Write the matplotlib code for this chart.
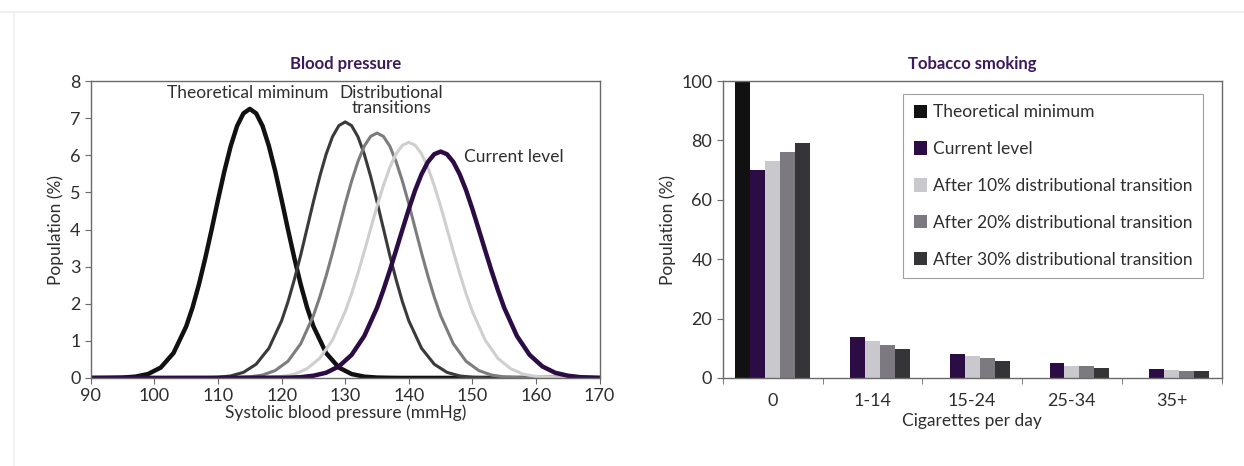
import matplotlib.pyplot as plt
import numpy as np

plt.rcParams['font.family'] = ['Lato', 'DejaVu Sans']

# blood pressure distributions (population %, by systolic mmHg)
bp_dx = [-24, -22, -20, -18, -16, -14, -12, -10, -9, -8, -7, -6, -5, -4, -3, -2, -1, 0,
         1, 2, 3, 4, 5, 6, 7, 8, 9, 10, 12, 14, 16, 18, 20, 22, 24]
bp_centres = [115, 130, 135, 140, 145]
bp_theoretical = [0, 0.003, 0.01, 0.034, 0.105, 0.28, 0.67, 1.39, 1.90, 2.52, 3.23, 4.00, 4.80, 5.57, 6.25, 6.79, 7.13, 7.25,
                  7.13, 6.79, 6.25, 5.57, 4.80, 4.00, 3.23, 2.52, 1.90, 1.39, 0.67, 0.28, 0.105, 0.034, 0.01, 0.003, 0]
bp_trans30 = [0, 0.005, 0.017, 0.054, 0.15, 0.37, 0.80, 1.54, 2.05, 2.65, 3.31, 4.03, 4.75, 5.43, 6.03, 6.50, 6.80, 6.90,
              6.80, 6.50, 6.03, 5.43, 4.75, 4.03, 3.31, 2.65, 2.05, 1.54, 0.80, 0.37, 0.15, 0.054, 0.017, 0.005, 0]
bp_trans20 = [0.002, 0.009, 0.028, 0.078, 0.20, 0.45, 0.92, 1.68, 2.18, 2.75, 3.37, 4.03, 4.69, 5.30, 5.83, 6.25, 6.51, 6.60,
              6.51, 6.25, 5.83, 5.30, 4.69, 4.03, 3.37, 2.75, 2.18, 1.68, 0.92, 0.45, 0.20, 0.078, 0.028, 0.009, 0.002]
bp_trans10 = [0.004, 0.014, 0.04, 0.10, 0.25, 0.53, 1.02, 1.79, 2.27, 2.82, 3.41, 4.02, 4.63, 5.18, 5.67, 6.04, 6.27, 6.35,
              6.27, 6.04, 5.67, 5.18, 4.63, 4.02, 3.41, 2.82, 2.27, 1.79, 1.02, 0.53, 0.25, 0.10, 0.04, 0.014, 0.004]
bp_current = [0.007, 0.02, 0.06, 0.14, 0.31, 0.62, 1.13, 1.89, 2.37, 2.89, 3.44, 4.00, 4.55, 5.06, 5.49, 5.82, 6.03, 6.10,
              6.03, 5.82, 5.49, 5.06, 4.55, 4.00, 3.44, 2.89, 2.37, 1.89, 1.13, 0.62, 0.31, 0.14, 0.06, 0.02, 0.007]

# tobacco smoking (population %, by cigarettes per day)
smoke_cats = ['0', '1-14', '15-24', '25-34', '35+']
smoke_series = ['Theoretical minimum', 'Current level',
                'After 10% distributional transition',
                'After 20% distributional transition',
                'After 30% distributional transition']
smoke_theoretical = [100, 0, 0, 0, 0]
smoke_current = [70, 13.7, 8.1, 5.1, 3.1]
smoke_10 = [73, 12.6, 7.3, 4.1, 2.8]
smoke_20 = [76, 11.2, 6.7, 4.0, 2.2]
smoke_30 = [79, 9.8, 5.8, 3.5, 2.2]

black = '#111111'
purple = '#2c0c45'
title_col = '#3b1a5e'
spine_col = '#6a6a6a'
text_col = '#2e2e2e'
fs = 12.5

fig = plt.figure(figsize=(12.44, 4.66), dpi=100)

# faint page frame
fig.add_artist(plt.Line2D([0, 1], [0.974, 0.974], color='#ececec', lw=1.2))
fig.add_artist(plt.Line2D([0.011, 0.011], [0.0, 0.974], color='#f0f0f0', lw=1.2))

# ---- left: blood pressure curves
ax1 = fig.add_axes([0.073, 0.189, 0.409, 0.637])
curves = [
    (bp_centres[0], bp_theoretical, black, 3.2),
    (bp_centres[1], bp_trans30, '#3a3a3a', 2.2),
    (bp_centres[2], bp_trans20, '#7d7d7d', 2.2),
    (bp_centres[3], bp_trans10, '#cfcfcf', 2.2),
    (bp_centres[4], bp_current, purple, 3.2),
]
for c, ys, col, lw in curves:
    xs = [90] + [c + d for d in bp_dx] + [170]
    ys = [0] + list(ys) + [0]
    ax1.plot(xs, ys, color=col, lw=lw, solid_joinstyle='round', solid_capstyle='round')

ax1.set_xlim(90, 170)
ax1.set_ylim(0, 8)
ax1.set_xticks(np.arange(90, 171, 10))
ax1.set_yticks(np.arange(0, 9, 1))
ax1.set_xlabel('Systolic blood pressure (mmHg)', fontsize=fs, color=text_col, labelpad=0)
ax1.set_ylabel('Population (%)', fontsize=fs, color=text_col, labelpad=4)
ax1.set_title('Blood pressure', fontsize=12, fontweight='bold', color=title_col, pad=9)
ax1.text(114.7, 7.9, 'Theoretical miminum', ha='center', va='top', fontsize=fs, color=text_col)
ax1.text(137.3, 7.9, 'Distributional\ntransitions', ha='center', va='top', fontsize=fs,
         color=text_col, linespacing=0.95)
ax1.text(148.6, 5.95, 'Current level', ha='left', va='center', fontsize=fs, color=text_col)

# ---- right: tobacco smoking bars
ax2 = fig.add_axes([0.581, 0.189, 0.401, 0.637])
bar_cols = [black, purple, '#c9c8cc', '#7c7a80', '#353538']
bar_vals = [smoke_theoretical, smoke_current, smoke_10, smoke_20, smoke_30]
x = np.arange(len(smoke_cats))
w = 0.15
for i, (vals, col, name) in enumerate(zip(bar_vals, bar_cols, smoke_series)):
    ax2.bar(x + (i - 2) * w, vals, width=w, color=col, label=name, edgecolor='none')

ax2.set_xlim(-0.5, len(smoke_cats) - 0.5)
ax2.set_ylim(0, 100)
ax2.set_yticks(np.arange(0, 101, 20))
ax2.set_xticks(x)
ax2.set_xticklabels(smoke_cats)
ax2.set_xticks(np.arange(-0.5, len(smoke_cats), 1), minor=True)
ax2.tick_params(axis='x', which='minor', length=4, color=spine_col, direction='out')
ax2.set_xlabel('Cigarettes per day', fontsize=fs, color=text_col, labelpad=3)
ax2.set_ylabel('Population (%)', fontsize=fs, color=text_col, labelpad=4)
ax2.set_title('Tobacco smoking', fontsize=12, fontweight='bold', color=title_col, pad=9)
leg = ax2.legend(loc='upper right', bbox_to_anchor=(0.962, 0.957), borderaxespad=0,
                 fontsize=fs, frameon=True, fancybox=False, handlelength=0.8, handleheight=0.8,
                 handletextpad=0.3, labelspacing=1.2, borderpad=0.6, labelcolor=text_col)
leg.get_frame().set_edgecolor('#8a8a8a')
leg.get_frame().set_linewidth(0.8)

for ax in (ax1, ax2):
    for s in ax.spines.values():
        s.set_color(spine_col)
        s.set_linewidth(1.0)
    ax.tick_params(axis='both', which='major', labelsize=13, labelcolor=text_col,
                   color=spine_col, direction='out', length=4)

ax2.tick_params(axis='x', which='major', length=0, pad=11)

fig.savefig('out.png', dpi=100)
